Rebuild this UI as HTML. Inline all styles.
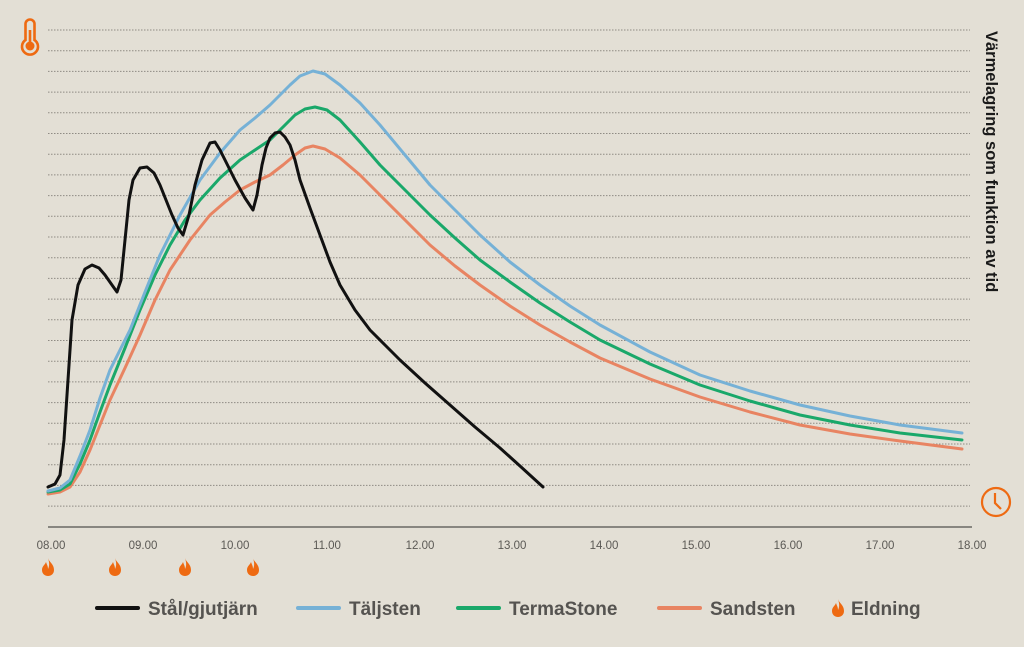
<!DOCTYPE html>
<html><head><meta charset="utf-8"><style>
body{margin:0;background:#e3dfd5;}
svg{display:block;font-family:"Liberation Sans",sans-serif;}
</style></head><body>
<svg width="1024" height="647" viewBox="0 0 1024 647" xmlns="http://www.w3.org/2000/svg">
<rect width="1024" height="647" fill="#e3dfd5"/>
<defs>
<path id="fl" d="M0,-9 C1,-5 6,-3 6,3 C6,7 3,9 0,9 C-3,9 -6,7 -6,3 C-6,-1 -3,-2 -2,-5 C-1,-2 0,-1 0,2 C1,0 2,-3 0,-9 Z" fill="#ee6a12"/>
</defs>
<g stroke="#8f8b84" stroke-width="1" stroke-dasharray="1.5,1.5">
<line x1="48" x2="970" y1="30" y2="30"/><line x1="48" x2="970" y1="50.7" y2="50.7"/><line x1="48" x2="970" y1="71.4" y2="71.4"/><line x1="48" x2="970" y1="92.1" y2="92.1"/><line x1="48" x2="970" y1="112.8" y2="112.8"/><line x1="48" x2="970" y1="133.5" y2="133.5"/><line x1="48" x2="970" y1="154.2" y2="154.2"/><line x1="48" x2="970" y1="174.9" y2="174.9"/><line x1="48" x2="970" y1="195.6" y2="195.6"/><line x1="48" x2="970" y1="216.3" y2="216.3"/><line x1="48" x2="970" y1="237" y2="237"/><line x1="48" x2="970" y1="257.7" y2="257.7"/><line x1="48" x2="970" y1="278.4" y2="278.4"/><line x1="48" x2="970" y1="299.1" y2="299.1"/><line x1="48" x2="970" y1="319.8" y2="319.8"/><line x1="48" x2="970" y1="340.5" y2="340.5"/><line x1="48" x2="970" y1="361.2" y2="361.2"/><line x1="48" x2="970" y1="381.9" y2="381.9"/><line x1="48" x2="970" y1="402.6" y2="402.6"/><line x1="48" x2="970" y1="423.3" y2="423.3"/><line x1="48" x2="970" y1="444" y2="444"/><line x1="48" x2="970" y1="464.7" y2="464.7"/><line x1="48" x2="970" y1="485.4" y2="485.4"/><line x1="48" x2="970" y1="506.1" y2="506.1"/>
</g>
<line x1="48" x2="972" y1="527" y2="527" stroke="#6b6965" stroke-width="1.5"/>
<g fill="none" stroke-width="3" stroke-linejoin="round" stroke-linecap="round">
<polyline stroke="#e88462" points="48,494 60,492 70,487 80,472 90,450 100,425 110,400 125,368 140,335 155,300 170,270 190,240 210,215 225,202 240,190 255,182 270,175 283,165 295,155 305,148 313,146 325,149 340,158 360,175 380,195 405,220 430,245 455,266 480,285 510,306 540,325 570,342 600,358 650,379 700,397 750,412 800,425 850,434 900,441 962,449"/>
<polyline stroke="#1aa86a" points="48,492 60,490 70,484 80,464 90,440 100,412 110,385 125,348 140,310 155,275 170,245 185,220 200,200 220,178 240,160 255,150 270,140 283,127 295,115 305,109 315,107 327,110 340,120 360,142 380,165 405,190 430,215 455,238 480,260 510,282 540,303 570,322 600,340 650,364 700,385 750,401 800,415 850,425 900,433 962,440"/>
<polyline stroke="#76b1d6" points="48,491 60,488 70,480 80,456 90,430 100,398 110,370 120,350 130,330 145,292 160,255 180,215 200,180 220,153 240,130 255,118 270,105 280,95 290,85 300,76 313,71 325,74 340,85 360,103 380,125 405,155 430,185 455,210 480,235 510,262 540,285 570,306 600,325 650,352 700,375 750,391 800,405 850,416 900,425 962,433"/>
<polyline stroke="#111" points="48,487 55,484 60,475 64,440 68,380 72,320 78,285 85,269 92,265 99,268 105,275 112,285 117,292 121,280 125,240 129,200 133,180 140,168 147,167 154,173 160,185 166,200 172,215 178,228 183,235 189,215 195,185 202,160 210,143 215,142 220,150 228,166 235,180 245,198 253,210 257,195 262,165 266,148 270,138 275,133 280,132 285,137 290,145 295,160 300,180 310,208 320,235 330,262 340,285 355,310 370,330 385,345 400,360 425,383 450,405 475,427 500,448 520,466 543,487"/>
</g>
<g fill="#5b5955" font-size="11.5" text-anchor="middle">
<text x="51" y="549">08.00</text><text x="143" y="549">09.00</text><text x="235" y="549">10.00</text><text x="327" y="549">11.00</text><text x="420" y="549">12.00</text><text x="512" y="549">13.00</text><text x="604" y="549">14.00</text><text x="696" y="549">15.00</text><text x="788" y="549">16.00</text><text x="880" y="549">17.00</text><text x="972" y="549">18.00</text>
</g>
<use href="#fl" x="48" y="567"/><use href="#fl" x="115" y="567"/><use href="#fl" x="185" y="567"/><use href="#fl" x="253" y="567"/>
<!-- thermometer -->
<g fill="none" stroke="#ee6a12" stroke-width="2.6">
<path d="M25.5,40 L25.5,24 A4.5,4.5 0 0 1 34.5,24 L34.5,40 A8,8 0 1 1 25.5,40 Z"/>
</g>
<circle cx="30" cy="46" r="4.5" fill="#ee6a12"/><line x1="30" y1="30" x2="30" y2="45" stroke="#ee6a12" stroke-width="2.6"/>
<!-- clock -->
<circle cx="996" cy="502" r="14" fill="none" stroke="#ee6a12" stroke-width="2.2"/>
<polyline points="995,493 995,503 1001,509" fill="none" stroke="#ee6a12" stroke-width="2.2"/>
<text transform="translate(986,31) rotate(90)" font-size="16.5" font-weight="bold" fill="#1a1a1a">Värmelagring som funktion av tid</text>
<g font-size="19" font-weight="bold" fill="#555350" stroke-linecap="round">
<line x1="97" x2="138" y1="608" y2="608" stroke="#111" stroke-width="4"/><text x="148" y="615">Stål/gjutjärn</text>
<line x1="298" x2="339" y1="608" y2="608" stroke="#76b1d6" stroke-width="4"/><text x="349" y="615">Täljsten</text>
<line x1="458" x2="499" y1="608" y2="608" stroke="#1aa86a" stroke-width="4"/><text x="509" y="615">TermaStone</text>
<line x1="659" x2="700" y1="608" y2="608" stroke="#e88462" stroke-width="4"/><text x="710" y="615">Sandsten</text>
<use href="#fl" x="838" y="608"/><text x="851" y="615">Eldning</text>
</g>
</svg>
</body></html>
